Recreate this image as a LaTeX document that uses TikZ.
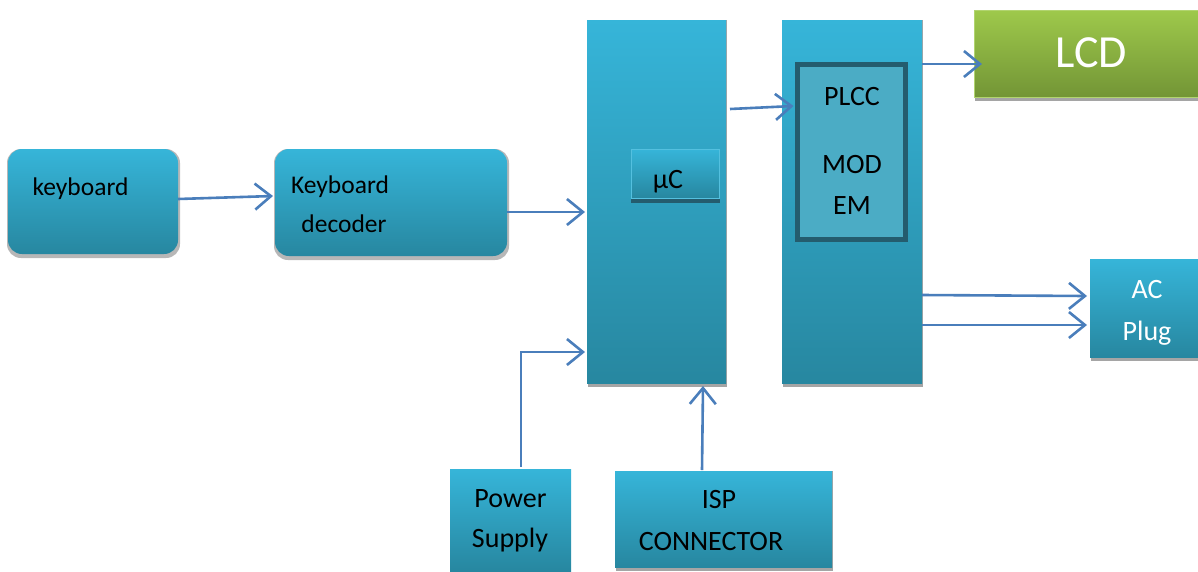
\documentclass[tikz,border=0pt]{standalone}
\usepackage{fontspec}
\setmainfont{Carlito}
\usetikzlibrary{arrows.meta,backgrounds}
\definecolor{btop}{RGB}{54,181,217}
\definecolor{bbot}{RGB}{39,135,160}
\definecolor{gtop}{RGB}{158,201,75}
\definecolor{gbot}{RGB}{115,149,54}
\definecolor{arrc}{RGB}{74,126,187}
\definecolor{shad}{RGB}{165,165,165}
\definecolor{darkt}{RGB}{36,92,110}
\definecolor{innerc}{RGB}{75,172,197}
\newcommand{\mybox}[6]{\node[#6, minimum width={#4-#2}, minimum height={#5-#3}] (#1) at (#2,#3) {};}
\begin{document}
\begin{tikzpicture}[x=1pt,y=-1pt,
  blk/.style={inner sep=0pt, outer sep=0pt, anchor=north west, top color=btop, bottom color=bbot, draw=none},
  rblk/.style={blk, rounded corners=14pt},
  gblk/.style={inner sep=0pt, outer sep=0pt, anchor=north west, top color=gtop, bottom color=gbot, draw=gtop!80!white, line width=0.8pt},
  arr/.style={draw=arrc, line width=2.6pt, -{Straight Barb[length=16pt,width=26pt,line width=2.6pt]}},
  big/.style={font=\fontsize{28}{34}\selectfont, anchor=base, inner sep=0pt},
  mid/.style={font=\fontsize{25.5}{30}\selectfont, anchor=base, inner sep=0pt},
]
\useasboundingbox (0,0) rectangle (1198,571);
% boxes
\mybox{kb}{8}{149}{178}{254}{rblk}
\mybox{kbd}{275}{149}{507}{256}{rblk}
\mybox{mcu}{587}{20}{726}{383}{blk}
\mybox{plcc}{782}{20}{922}{383}{blk}
\mybox{lcd}{974}{10}{1198}{97}{gblk}
\mybox{ac}{1090}{259}{1198}{357}{blk}
\mybox{ps}{450}{469}{571}{571}{blk}
\mybox{isp}{615}{471}{832}{567}{blk}
% inner boxes
\fill[darkt] (631,197) rectangle (720,203);
\mybox{mcui}{631}{149}{719}{198}{blk, draw=btop!85!white, line width=0.8pt}
\mybox{plcci}{797.5}{64.5}{905.5}{239.5}{blk, top color=innerc, bottom color=innerc, draw=darkt, line width=5pt}
% shadows
\begin{scope}[on background layer]
  \foreach \n in {mcu,plcc,lcd,ac,isp}
    \fill[shad] ([xshift=1pt]\n.north west) rectangle ([xshift=1pt,yshift=-4pt]\n.south east);
  \foreach \n in {kb,kbd}
    \fill[shad!80!white, rounded corners=14pt] ([xshift=-1pt]\n.north west) rectangle ([xshift=2pt,yshift=-4pt]\n.south east);
\end{scope}
% texts
\node[mid] (kbt) at (80.5,195) {keyboard};
\node[mid] (kbdt1) at (340,193) {Keyboard};
\node[mid] (kbdt2) at (344,232) {decoder};
\node[big] (mcut) at (668,188) {µC};
\node[big] (plcct1) at (852,105) {PLCC};
\node[big] (plcct2) at (852,173) {MOD};
\node[big] (plcct3) at (852,214) {EM};
\node[big, font=\fontsize{46}{52}\selectfont, text=white] (lcdt) at (1091,67) {LCD};
\node[big, text=white] (act1) at (1147,298) {AC};
\node[big, text=white] (act2) at (1147,340) {Plug};
\node[big] (pst1) at (510.5,507) {Power};
\node[big] (pst2) at (510,547) {Supply};
\node[big] (ispt1) at (719,508) {ISP};
\node[big] (ispt2) at (711,550) {CONNECTOR};
% connectors
\draw[arr] ([yshift=2.5pt]kb.east) -- ([xshift=-2pt,yshift=6.5pt]kbd.west);
\draw[arr] ([yshift=-9.5pt]kbd.east) -- ([xshift=-2pt,yshift=-10.5pt]mcu.west);
\draw[arr] ([xshift=4pt,yshift=92.5pt]mcu.east) -- ([xshift=-4pt,yshift=46pt]plcci.west);
\draw[arr] ([yshift=137.5pt]plcc.east) -- ([xshift=8pt,yshift=-10.5pt]lcd.west);
\draw[arr] ([yshift=-93.5pt]plcc.east) -- ([xshift=-3pt,yshift=12pt]ac.west);
\draw[arr] ([yshift=-123.5pt]plcc.east) -- ([xshift=-3pt,yshift=-17pt]ac.west);
\draw[arr] ([xshift=10.5pt,yshift=2pt]ps.north) |- ([xshift=-2pt,yshift=-150.5pt]mcu.west);
\draw[arr] ([xshift=-21.5pt,yshift=1pt]isp.north) -- ([xshift=46.5pt,yshift=-3pt]mcu.south);
\end{tikzpicture}
\end{document}
